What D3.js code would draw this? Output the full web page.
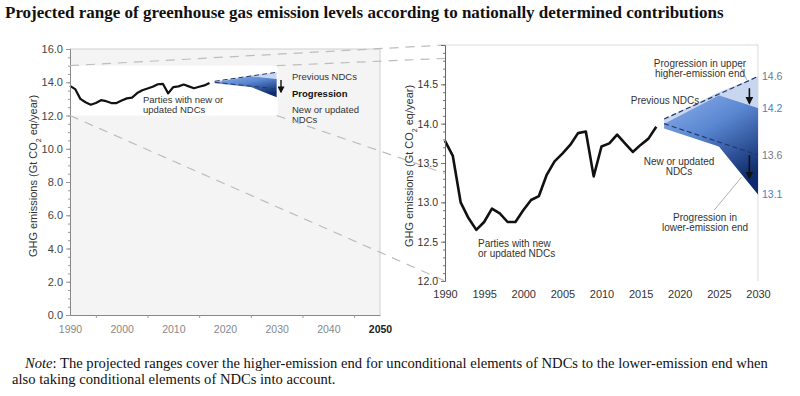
<!DOCTYPE html>
<html>
<head>
<meta charset="utf-8">
<script src="https://cdn.jsdelivr.net/npm/d3@7"></script>
<style>
  body { margin: 0; background: #fff; }
  svg { display: block; }
  text { font-family: "Liberation Sans", Arial, sans-serif; }
  text.serif { font-family: "Liberation Serif", "Times New Roman", serif; }
</style>
</head>
<body>
<svg width="800" height="396"></svg>
<script>
// historical emissions of Parties with new or updated NDCs (Gt CO2 eq/year)
var histYears = [1990, 1991, 1992, 1993, 1994, 1995, 1996, 1997, 1998, 1999,
                 2000, 2001, 2002, 2003, 2004, 2005, 2006, 2007, 2008, 2009,
                 2010, 2011, 2012, 2013, 2014, 2015, 2016, 2017];
var histValues = [13.78, 13.59, 13.0, 12.8, 12.65, 12.75, 12.92, 12.86, 12.75, 12.75,
                  12.9, 13.03, 13.08, 13.35, 13.52, 13.62, 13.73, 13.88, 13.9, 13.33,
                  13.71, 13.75, 13.86, 13.75, 13.64, 13.73, 13.81, 13.96];

// projected ranges
var projYears = [2018, 2025, 2030];
var prevUpper = [14.06, 14.4, 14.6];
var newUpper  = [14.0, 14.36, 14.2];
var prevLower = [14.0, 13.77, 13.6];
var newLower  = [13.94, 13.71, 13.1];

var endValues = [14.6, 14.2, 13.6, 13.1];
var endLabels = ["14.6", "14.2", "13.6", "13.1"];

var leftYTicks = [0, 2, 4, 6, 8, 10, 12, 14, 16];
var leftXTicks = [1990, 2000, 2010, 2020, 2030, 2040, 2050];
var rightYTicks = [12.0, 12.5, 13.0, 13.5, 14.0, 14.5];
var rightXTicks = [1990, 1995, 2000, 2005, 2010, 2015, 2020, 2025, 2030];

var hist = histYears.map((y, i) => ({year: y, v: histValues[i]}));
var proj = projYears.map((y, i) => ({year: y, pu: prevUpper[i], nu: newUpper[i], pl: prevLower[i], nl: newLower[i]}));

var svg = d3.select('svg');
var fmt = d3.format('.1f');
var yearFmt = d3.format('d');

var defs = svg.append('defs');
var grad = defs.append('linearGradient')
  .attr('id', 'fan')
  .attr('x1', 0).attr('y1', 0).attr('x2', 0.55).attr('y2', 1);
grad.append('stop').attr('offset', 0).attr('stop-color', '#8fb1ea');
grad.append('stop').attr('offset', 0.45).attr('stop-color', '#5a87d2');
grad.append('stop').attr('offset', 1).attr('stop-color', '#0f2d6e');

defs.append('marker')
  .attr('id', 'head')
  .attr('viewBox', '0 0 10 10')
  .attr('refX', 8).attr('refY', 5)
  .attr('markerWidth', 5).attr('markerHeight', 5)
  .attr('orient', 'auto')
  .append('path').attr('d', 'M0,0L10,5L0,10z').attr('fill', '#111');

// title
svg.append('text')
  .attr('class', 'serif')
  .attr('x', 5).attr('y', 18)
  .style('font-weight', 'bold')
  .style('font-size', '17px')
  .attr('fill', '#111')
  .text('Projected range of greenhouse gas emission levels according to nationally determined contributions');

// scales
var lx = d3.scaleLinear().domain([1990, 2050]).range([70, 380]);
var ly = d3.scaleLinear().domain([0, 16]).range([315, 49]);
var rx = d3.scaleLinear().domain([1990, 2030]).range([445, 758]);
var ry = d3.scaleLinear().domain([12, 15]).range([281, 45]);

// ---- left chart ----
var left = svg.append('g');

left.append('rect')
  .attr('x', lx(1990)).attr('y', ly(16))
  .attr('width', lx(2050) - lx(1990)).attr('height', ly(0) - ly(16))
  .attr('fill', '#f4f4f4');
left.append('path')
  .attr('d', `M${lx(1990)},${ly(16)}H${lx(2050)}V${ly(0)}`)
  .attr('fill', 'none').attr('stroke', '#cfcfcf');

// zoom connector lines
var corners = [
  [lx(1990), ly(15), rx(1990), ry(15)],
  [lx(2030), ly(15), rx(2030), ry(15)],
  [lx(1990), ly(12), rx(1990), ry(12)],
  [lx(2030), ly(12), rx(2030), ry(12)]
];
svg.append('g').selectAll('line')
  .data(corners)
  .enter()
  .append('line')
  .attr('x1', d => d[0]).attr('y1', d => d[1])
  .attr('x2', d => d[2]).attr('y2', d => d[3])
  .attr('stroke', '#bdbdbd')
  .attr('stroke-width', 1.2)
  .attr('stroke-dasharray', '9,7');

left.append('rect')
  .attr('x', lx(1990) + 1).attr('y', ly(15))
  .attr('width', lx(2030) - lx(1990)).attr('height', ly(12) - ly(15))
  .attr('fill', '#fff');

function drawFan(g, x, y, dashW) {
  g.append('path')
    .datum(proj)
    .attr('d', d3.area().x(d => x(d.year)).y0(d => y(d.nu)).y1(d => y(d.pu)))
    .attr('fill', '#c9d6ef');
  g.append('path')
    .datum(proj)
    .attr('d', d3.area().x(d => x(d.year)).y0(d => y(d.nl)).y1(d => y(d.nu)))
    .attr('fill', 'url(#fan)');
  ['pu', 'pl'].forEach(k => {
    g.append('line')
      .attr('x1', x(proj[0].year)).attr('y1', y(proj[0][k]))
      .attr('x2', x(proj[2].year)).attr('y2', y(proj[2][k]))
      .attr('stroke', '#23396e')
      .attr('stroke-width', dashW)
      .attr('stroke-dasharray', '5,3');
  });
}

function drawHist(g, x, y, w) {
  g.append('path')
    .datum(hist)
    .attr('d', d3.line().x(d => x(d.year)).y(d => y(d.v)))
    .attr('fill', 'none')
    .attr('stroke', '#111')
    .attr('stroke-width', w)
    .attr('stroke-linejoin', 'round');
}

drawFan(left, lx, ly, 1);
drawHist(left, lx, ly, 2.2);

function label(g, x, y, lines, anchor, size, gap) {
  g.append('text')
    .attr('text-anchor', anchor)
    .style('font-size', size + 'px')
    .attr('fill', '#333')
    .selectAll('tspan')
    .data(lines)
    .enter().append('tspan')
    .attr('x', x).attr('y', (d, i) => y + i * gap)
    .text(d => d);
}

label(left, 143, 103, ['Parties with new or', 'updated NDCs'], 'start', 9.5, 9.5);

// small legend
var lg = left.append('g');
label(lg, 292, 80, ['Previous NDCs'], 'start', 9.5, 10);
lg.append('text').attr('x', 292).attr('y', 97).attr('fill', '#111')
  .style('font-size', '9.5px').style('font-weight', 'bold').text('Progression');
label(lg, 292, 113, ['New or updated', 'NDCs'], 'start', 9.5, 9.5);
lg.append('line')
  .attr('x1', 281).attr('y1', 80).attr('x2', 281).attr('y2', 92)
  .attr('stroke', '#111').attr('stroke-width', 1.4)
  .attr('marker-end', 'url(#head)');

// left axes
var lyAxis = left.append('g')
  .attr('transform', `translate(${lx(1990)},0)`)
  .call(d3.axisLeft(ly).tickValues(leftYTicks).tickFormat(fmt).tickSize(4).tickPadding(3));
left.append('g')
  .attr('transform', `translate(${lx(1990)},0)`)
  .call(d3.axisLeft(ly).ticks(32).tickFormat('').tickSize(2))
  .call(g => g.select('.domain').remove());
lyAxis.selectAll('text').style('font-size', '11px').attr('fill', '#444');

var lxAxis = left.append('g')
  .attr('transform', `translate(0,${ly(0)})`)
  .call(d3.axisBottom(lx).tickValues(leftXTicks).tickFormat(yearFmt).tickSize(0).tickPadding(11));
left.append('g')
  .attr('transform', `translate(0,${ly(0)})`)
  .call(d3.axisBottom(lx).tickValues([1995, 2005, 2015, 2025, 2035, 2045]).tickFormat('').tickSize(3))
  .call(g => g.select('.domain').remove());
lxAxis.selectAll('text')
  .style('font-size', '10.5px')
  .attr('fill', d => d === 2050 ? '#222' : '#888')
  .style('font-weight', d => d === 2050 ? 'bold' : 'normal');

[lyAxis, lxAxis].forEach(a => {
  a.select('.domain').attr('stroke', '#888');
});
left.selectAll('.tick line').attr('stroke', '#999');

function yTitle(g, x, cy) {
  var t = g.append('text')
    .attr('transform', `translate(${x},${cy}) rotate(-90)`)
    .attr('text-anchor', 'middle')
    .style('font-size', '11px')
    .attr('fill', '#333');
  t.append('tspan').text('GHG emissions (Gt CO');
  t.append('tspan').attr('baseline-shift', 'sub').style('font-size', '7px').text('2');
  t.append('tspan').text(' eq/year)');
}
yTitle(left, 37, 176);

// ---- right chart ----
var right = svg.append('g');
right.append('rect')
  .attr('x', rx(1990)).attr('y', ry(15))
  .attr('width', rx(2030) - rx(1990)).attr('height', ry(12) - ry(15))
  .attr('fill', '#fff');
right.append('path')
  .attr('d', `M${rx(1990)},${ry(15)}H${rx(2030)}V${ry(12)}`)
  .attr('fill', 'none').attr('stroke', '#dcdcdc');

drawFan(right, rx, ry, 1.2);
drawHist(right, rx, ry, 2.6);

var ryAxis = right.append('g')
  .attr('transform', `translate(${rx(1990)},0)`)
  .call(d3.axisLeft(ry).tickValues(rightYTicks).tickFormat(fmt).tickSize(4).tickPadding(3));
right.append('g')
  .attr('transform', `translate(${rx(1990)},0)`)
  .call(d3.axisLeft(ry).ticks(30).tickFormat('').tickSize(2))
  .call(g => g.select('.domain').remove());
ryAxis.select('.domain').attr('stroke', '#666');
ryAxis.selectAll('text').style('font-size', '10.5px').attr('fill', '#333');
right.selectAll('.tick line').attr('stroke', '#777');

var rxAxis = right.append('g')
  .attr('transform', `translate(0,${ry(12)})`)
  .call(d3.axisBottom(rx).tickValues(rightXTicks).tickFormat(yearFmt).tickSize(0).tickPadding(9));
rxAxis.select('.domain').remove();
rxAxis.selectAll('text').style('font-size', '11px').attr('fill', '#333');

yTitle(right, 413, 166);

// end-of-range value labels
right.append('g').selectAll('text')
  .data(endValues)
  .enter()
  .append('text')
  .attr('x', rx(2030) + 4)
  .attr('y', d => ry(d) + 4)
  .style('font-size', '10.5px')
  .attr('fill', (d, i) => i % 2 ? '#4a80c4' : '#707a8c')
  .text((d, i) => endLabels[i]);

// progression arrows
[[14.45, 14.26], [13.6, 13.31]].forEach(a => {
  right.append('line')
    .attr('x1', rx(2028.9)).attr('y1', ry(a[0]))
    .attr('x2', rx(2028.9)).attr('y2', ry(a[1]))
    .attr('stroke', '#111').attr('stroke-width', 1.6)
    .attr('marker-end', 'url(#head)');
});

// leader lines
[[2027.7, 14.74, 2028.6, 14.55], [2027.9, 13.32, 2024.4, 12.9]].forEach(l => {
  right.append('line')
    .attr('x1', rx(l[0])).attr('y1', ry(l[1]))
    .attr('x2', rx(l[2])).attr('y2', ry(l[3]))
    .attr('stroke', '#999').attr('stroke-width', 0.8);
});

label(right, 700, 67, ['Progression in upper', 'higher-emission end'], 'middle', 10, 9.5);
label(right, 665, 104, ['Previous NDCs'], 'middle', 10, 9.5);
label(right, 679, 165, ['New or updated', 'NDCs'], 'middle', 10, 9.5);
label(right, 705, 221, ['Progression in', 'lower-emission end'], 'middle', 10, 9.5);
label(right, 478, 247, ['Parties with new', 'or updated NDCs'], 'start', 10, 9.5);

// note
var n1 = svg.append('text').attr('class', 'serif')
  .attr('x', 25).attr('y', 368)
  .style('font-size', '14.6px').attr('fill', '#111');
n1.append('tspan').style('font-style', 'italic').text('Note');
n1.append('tspan').text(': The projected ranges cover the higher-emission end for unconditional elements of NDCs to the lower-emission end when');
svg.append('text').attr('class', 'serif')
  .attr('x', 12).attr('y', 384)
  .style('font-size', '14.6px').attr('fill', '#111')
  .text('also taking conditional elements of NDCs into account.');
</script>
</body>
</html>
